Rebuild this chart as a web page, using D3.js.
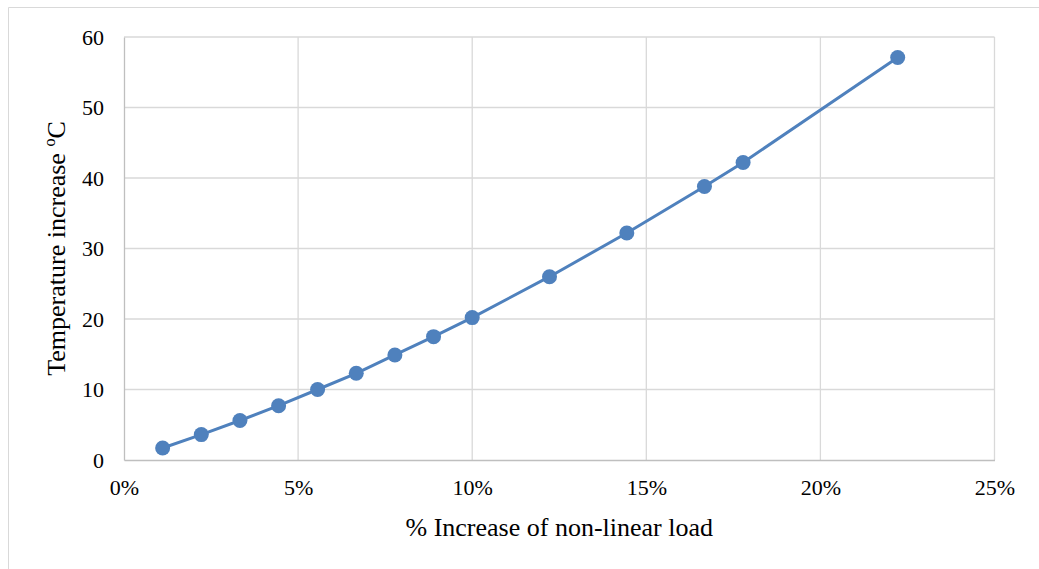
<!DOCTYPE html>
<html>
<head>
<meta charset="utf-8">
<script src="https://cdn.jsdelivr.net/npm/d3@7"></script>
<style>
  html, body { margin: 0; padding: 0; background: #fff; }
  svg { display: block; }
  text { font-family: "Liberation Serif", "Times New Roman", serif; fill: #000; }
</style>
</head>
<body>
<svg id="chart" width="1039" height="569"></svg>
<script>
// Data
const loadIncrease = [1.11, 2.22, 3.33, 4.44, 5.56, 6.67, 7.78, 8.89, 10.0, 12.22, 14.44, 16.67, 17.78, 22.22]; // %
const tempIncrease = [1.7, 3.6, 5.6, 7.7, 10.0, 12.3, 14.9, 17.5, 20.2, 26.0, 32.2, 38.8, 42.2, 57.1]; // °C
const xTicks = [0, 5, 10, 15, 20, 25];
const yTicks = [0, 10, 20, 30, 40, 50, 60];
const xTitle = "% Increase of non-linear load";
const yTitle = "Temperature increase ";

const svg = d3.select("#chart");
const W = 1039, H = 569;
const m = { left: 124, right: 1039 - 994.5, top: 37, bottom: H - 460 };

// outer chart border
svg.append("path")
  .attr("d", `M8.5,${H + 2} L8.5,7.5 L${W + 2},7.5`)
  .attr("fill", "none").attr("stroke", "#d9d9d9").attr("stroke-width", 1);

const x = d3.scaleLinear().domain([0, 25]).range([m.left, W - m.right]);
const y = d3.scaleLinear().domain([0, 60]).range([H - m.bottom, m.top]);

// gridlines
const grid = svg.append("g");
grid.selectAll("line.h").data(yTicks.filter(d => d > 0)).join("line")
  .attr("x1", x(0)).attr("x2", x(25))
  .attr("y1", d => y(d)).attr("y2", d => y(d))
  .attr("stroke", "#d9d9d9").attr("stroke-width", 1.3);
grid.selectAll("line.v").data(xTicks.filter(d => d > 0)).join("line")
  .attr("y1", y(0)).attr("y2", y(60))
  .attr("x1", d => x(d)).attr("x2", d => x(d))
  .attr("stroke", "#d9d9d9").attr("stroke-width", 1.3);

// axes
const xAxis = d3.axisBottom(x).tickValues(xTicks).tickSize(0).tickPadding(0).tickFormat(d => d + "%");
const gx = svg.append("g").attr("transform", `translate(0,${y(0)})`).call(xAxis);
gx.select(".domain").attr("stroke", "#bfbfbf").attr("stroke-width", 1.3);
gx.selectAll("text").attr("font-size", 22).attr("dy", null).attr("y", 35);

const yAxis = d3.axisLeft(y).tickValues(yTicks).tickSize(0).tickPadding(20);
const gy = svg.append("g").attr("transform", `translate(${x(0)},0)`).call(yAxis);
gy.select(".domain").attr("stroke", "#bfbfbf").attr("stroke-width", 1.3);
gy.selectAll("text").attr("font-size", 22).attr("dy", "0.33em");
svg.selectAll(".tick text").style("font-family", '"Liberation Serif", "Times New Roman", serif').attr("fill", "#000");

// series line
const pts = loadIncrease.map((v, i) => [v, tempIncrease[i]]);
svg.append("path")
  .datum(pts)
  .attr("fill", "none")
  .attr("stroke", "#4f81bd")
  .attr("stroke-width", 3)
  .attr("d", d3.line().x(d => x(d[0])).y(d => y(d[1])));

svg.append("g").selectAll("circle").data(pts).join("circle")
  .attr("cx", d => x(d[0])).attr("cy", d => y(d[1]))
  .attr("r", 7.5).attr("fill", "#4f81bd");

// titles
svg.append("text")
  .attr("x", (x(0) + x(25)) / 2).attr("y", 536)
  .attr("text-anchor", "middle").attr("font-size", 26)
  .text(xTitle);

const yt = svg.append("text")
  .attr("transform", `translate(65,${(y(0) + y(60)) / 2}) rotate(-90)`)
  .attr("text-anchor", "middle").attr("font-size", 26);
yt.append("tspan").text(yTitle);
yt.append("tspan").attr("font-size", 16).attr("dy", -10).text("o");
yt.append("tspan").attr("dy", 10).text("C");
</script>
</body>
</html>
